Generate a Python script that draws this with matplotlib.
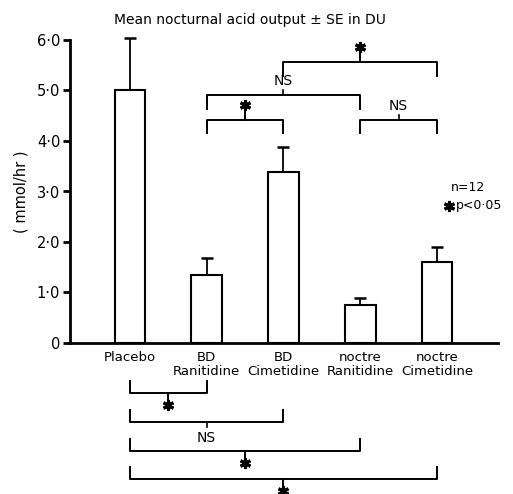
import matplotlib.pyplot as plt
import numpy as np

groups = ["Placebo", "BD\nRanitidine", "BD\nCimetidine", "noctre\nRanitidine", "noctre\nCimetidine"]
means = [5.0, 1.35, 3.38, 0.75, 1.6]
se = [1.03, 0.33, 0.5, 0.14, 0.3]

# comparisons drawn above the bars: (left, right, label)
top_pairs = [(1, 2, "*"), (3, 4, "NS"), (1, 3, "NS"), (2, 4, "*")]
top_levels = [4.42, 4.42, 4.91, 5.56]
# comparisons against placebo drawn below the axis
low_pairs = [(0, 1, "*"), (0, 2, "NS"), (0, 3, "*"), (0, 4, "*")]
low_levels = [-0.99, -1.56, -2.14, -2.69]

plt.rcParams['font.family'] = ['DejaVu Sans']
fig = plt.figure(figsize=(5.13, 4.94), dpi=100)
ax = fig.add_axes([70 / 513, 1 - 343 / 494, 428 / 513, 303 / 494])

x = np.arange(len(groups))
ax.bar(x, means, width=0.4, color="white", edgecolor="black", linewidth=1.5, zorder=2)
eb = ax.errorbar(x, means, yerr=[np.zeros(len(se)), se], fmt="none", ecolor="black",
                 elinewidth=1.3, capsize=4, capthick=1.8, zorder=1)
for art in eb.lines[1] + eb.lines[2]:
    art.set_clip_on(False)

ax.set_xlim(-0.78, 4.795)
ax.set_ylim(0, 6.0)
ax.set_yticks([0, 1, 2, 3, 4, 5, 6])
ax.set_yticklabels(["0", "1·0", "2·0", "3·0", "4·0", "5·0", "6·0"], fontsize=10.5)
ax.set_xticks([])
for s in ["top", "right"]:
    ax.spines[s].set_visible(False)
ax.spines["left"].set_linewidth(2)
ax.spines["bottom"].set_linewidth(2)
ax.tick_params(axis="y", length=5, width=2, pad=2)

for i, g in enumerate(groups):
    ax.text(i, -0.16, g, ha="center", va="top", fontsize=9.5, linespacing=1.05)

ax.set_ylabel("( mmol/hr )", fontsize=10.5, labelpad=6)
fig.text(250 / 513, 1 - 20 / 494, "Mean nocturnal acid output ± SE in DU",
         ha="center", va="center", fontsize=10)


def star(xc, yc):
    ax.plot(xc, yc, marker=(6, 2, 0), markersize=8, mew=2.2, color="black", clip_on=False)


leg = 0.27
for (a, b, lab), lv in zip(top_pairs, top_levels):
    ax.plot([a, a, b, b], [lv - leg, lv, lv, lv - leg], color="black", lw=1.4, clip_on=False)
    xc = (a + b) / 2
    if lab == "*":
        ax.plot([xc, xc], [lv, lv + 0.2], color="black", lw=1.4, clip_on=False)
        star(xc, lv + 0.3)
    else:
        ax.plot([xc, xc], [lv, lv + 0.1], color="black", lw=1.2, clip_on=False)
        ax.text(xc, lv + 0.28, lab, ha="center", va="center", fontsize=10)

leg = 0.23
for (a, b, lab), lv in zip(low_pairs, low_levels):
    ax.plot([a, a, b, b], [lv + leg, lv, lv, lv + leg], color="black", lw=1.4, clip_on=False)
    xc = (a + b) / 2
    if lab == "*":
        ax.plot([xc, xc], [lv, lv - 0.14], color="black", lw=1.4, clip_on=False)
        star(xc, lv - 0.24)
    else:
        ax.plot([xc, xc], [lv, lv - 0.1], color="black", lw=1.2, clip_on=False)
        ax.text(xc, lv - 0.32, lab, ha="center", va="center", fontsize=10)

ax.text(4.4, 3.07, "n=12", ha="center", va="center", fontsize=9)
star(4.16, 2.72)
ax.text(4.25, 2.72, "p<0·05", ha="left", va="center", fontsize=9)

fig.savefig("out.png", dpi=100)
